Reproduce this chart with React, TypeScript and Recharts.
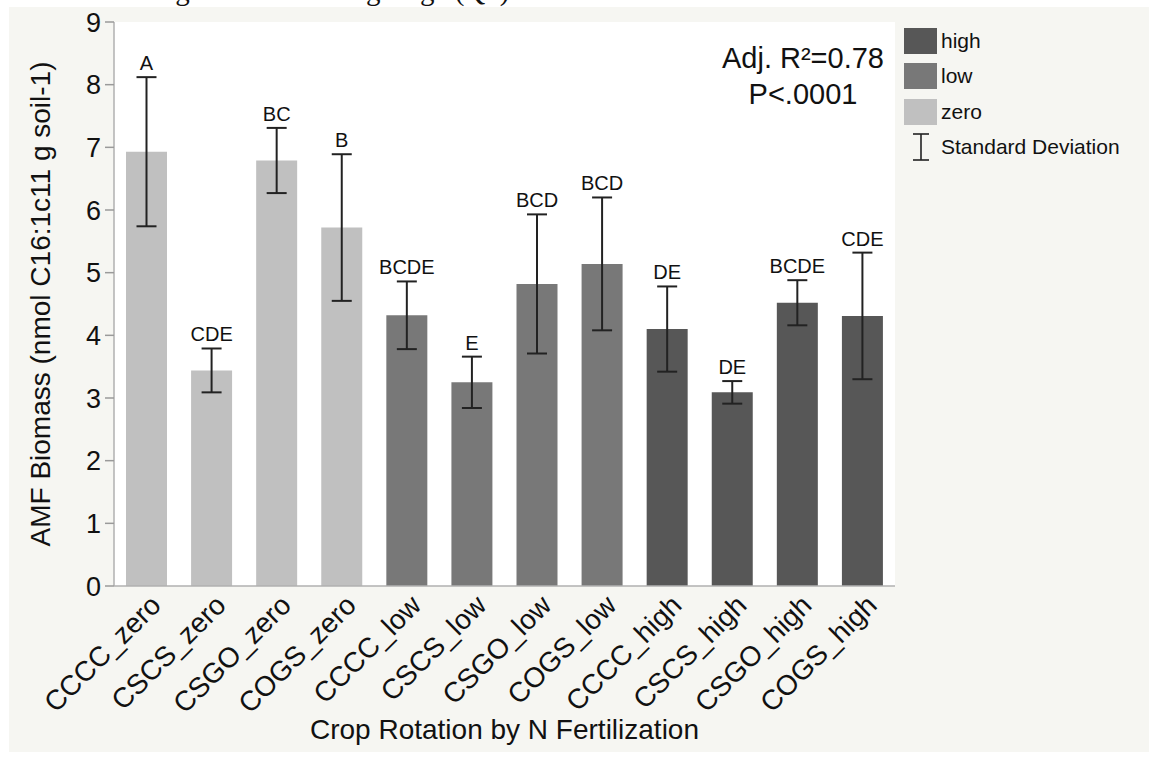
import React from 'react';
import {
  ComposedChart,
  Bar,
  Line,
  XAxis,
  YAxis,
  CartesianGrid,
  ErrorBar,
  LabelList,
  Cell,
  Legend,
} from 'recharts';

// Treatment combinations (crop rotation × N fertilization level)
const treatments = [
  'CCCC_zero', 'CSCS_zero', 'CSGO_zero', 'COGS_zero',
  'CCCC_low', 'CSCS_low', 'CSGO_low', 'COGS_low',
  'CCCC_high', 'CSCS_high', 'CSGO_high', 'COGS_high',
];
const nLevels = [
  'zero', 'zero', 'zero', 'zero',
  'low', 'low', 'low', 'low',
  'high', 'high', 'high', 'high',
];
// Mean AMF biomass (nmol C16:1c11 g soil-1)
const meanBiomass = [6.93, 3.44, 6.79, 5.72, 4.32, 3.25, 4.82, 5.14, 4.1, 3.09, 4.52, 4.31];
// Standard deviation of each mean
const stdDev = [1.19, 0.35, 0.52, 1.17, 0.54, 0.41, 1.11, 1.06, 0.68, 0.18, 0.36, 1.01];
// Tukey grouping letters
const groupLetters = ['A', 'CDE', 'BC', 'B', 'BCDE', 'E', 'BCD', 'BCD', 'DE', 'DE', 'BCDE', 'CDE'];
const yTicks = [0, 1, 2, 3, 4, 5, 6, 7, 8, 9];
const legendLevels = ['high', 'low', 'zero'];
const levelColors: Record<string, string> = {
  high: '#575757',
  low: '#787878',
  zero: '#c0c0c0',
};

const data = treatments.map((name, i) => ({
  name,
  level: nLevels[i],
  mean: meanBiomass[i],
  sd: stdDev[i],
  upper: meanBiomass[i] + stdDev[i],
  letters: groupLetters[i],
}));

const FONT = '"Liberation Sans", Arial, Helvetica, sans-serif';
const INK = '#111';
const FRAME = '#b0b0b0';

const XTick = (props: any) => {
  const { x, y, payload } = props;
  const ax = x + 16;
  const ay = y + 21;
  return (
    <text
      x={ax}
      y={ay}
      transform={`rotate(-45 ${ax} ${ay})`}
      textAnchor="end"
      fontSize={28}
      fontFamily={FONT}
      fill={INK}
    >
      {payload.value}
    </text>
  );
};

const LegendContent = () => (
  <div style={{ fontFamily: FONT, color: INK }}>
    {legendLevels.map((lv) => (
      <div key={lv} style={{ display: 'flex', alignItems: 'center', height: 35.5 }}>
        <span
          style={{
            display: 'inline-block',
            width: 33,
            height: 26,
            background: levelColors[lv],
          }}
        />
        <span style={{ marginLeft: 4, fontSize: 21 }}>{lv}</span>
      </div>
    ))}
    <div style={{ display: 'flex', alignItems: 'center', height: 35.5 }}>
      <svg width={33} height={28} style={{ display: 'block' }}>
        <line x1={9} y1={1} x2={25} y2={1} stroke="#222" strokeWidth={1.6} />
        <line x1={17} y1={1} x2={17} y2={27} stroke="#222" strokeWidth={1.6} />
        <line x1={9} y1={27} x2={25} y2={27} stroke="#222" strokeWidth={1.6} />
      </svg>
      <span style={{ marginLeft: 4, fontSize: 21 }}>Standard Deviation</span>
    </div>
  </div>
);

export default function App() {
  return (
    <div
      style={{
        position: 'absolute',
        left: 0,
        top: 0,
        width: 1149,
        height: 757,
        background: '#fff',
        overflow: 'hidden',
      }}
    >
      <div
        style={{
          position: 'absolute',
          left: 44,
          top: -24,
          fontFamily: '"Liberation Serif", "Times New Roman", serif',
          fontSize: 29,
          lineHeight: '29px',
          whiteSpace: 'nowrap',
          color: INK,
        }}
      >
        rane seeding at the flowering stage (Q1).
      </div>
      <div
        style={{
          position: 'absolute',
          left: 9,
          top: 7,
          width: 1140,
          height: 745,
          background: '#f6f6f2',
        }}
      />
      <div style={{ position: 'absolute', left: 0, top: 0 }}>
        <ComposedChart
          width={1149}
          height={757}
          data={data}
          margin={{ top: 22, right: 254, bottom: 0, left: 0 }}
          barSize={41}
        >
          <CartesianGrid fill="#ffffff" stroke="none" horizontal={false} vertical={false} />
          <XAxis
            dataKey="name"
            height={171}
            interval={0}
            tickLine={false}
            tickSize={0}
            tickMargin={0}
            axisLine={{ stroke: FRAME, strokeWidth: 1.5 }}
            tick={<XTick />}
            label={{
              content: (p: any) => {
                const vb = p.viewBox;
                return (
                  <text
                    x={vb.x + vb.width / 2}
                    y={vb.y + 153}
                    textAnchor="middle"
                    fontSize={28}
                    fontFamily={FONT}
                    fill={INK}
                  >
                    Crop Rotation by N Fertilization
                  </text>
                );
              },
            }}
          />
          <XAxis
            xAxisId="frameTop"
            dataKey="name"
            orientation="top"
            height={0}
            tick={false}
            tickLine={false}
            axisLine={{ stroke: FRAME, strokeWidth: 1.5 }}
          />
          <YAxis
            domain={[0, 9]}
            ticks={yTicks}
            width={114}
            interval={0}
            tickSize={9}
            tickMargin={4}
            tickLine={{ stroke: '#9a9a9a', strokeWidth: 1.5 }}
            axisLine={{ stroke: FRAME, strokeWidth: 1.5 }}
            tick={{ fontSize: 27, fontFamily: FONT, fill: INK }}
            label={{
              content: (p: any) => {
                const vb = p.viewBox;
                const cx = vb.x + 40;
                const cy = vb.y + vb.height / 2;
                return (
                  <text
                    x={cx}
                    y={cy}
                    transform={`rotate(-90 ${cx} ${cy})`}
                    textAnchor="middle"
                    dominantBaseline="central"
                    fontSize={28}
                    fontFamily={FONT}
                    fill={INK}
                  >
                    AMF Biomass (nmol C16:1c11 g soil-1)
                  </text>
                );
              },
            }}
          />
          <YAxis
            yAxisId="frameRight"
            orientation="right"
            domain={[0, 9]}
            width={0}
            tick={false}
            tickLine={false}
            axisLine={{ stroke: FRAME, strokeWidth: 1.5 }}
          />
          <Bar dataKey="mean" isAnimationActive={false} legendType="none">
            {data.map((d) => (
              <Cell key={d.name} fill={levelColors[d.level]} />
            ))}
            <ErrorBar
              dataKey="sd"
              direction="y"
              width={10}
              stroke="#222"
              strokeWidth={2}
              isAnimationActive={false}
            />
          </Bar>
          <Line
            dataKey="upper"
            stroke="none"
            dot={false}
            activeDot={false}
            legendType="none"
            isAnimationActive={false}
          >
            <LabelList
              dataKey="letters"
              position="top"
              offset={7}
              style={{ fontSize: 20, fontFamily: FONT, fill: INK }}
            />
          </Line>
          <Legend
            layout="horizontal"
            align="center"
            verticalAlign="middle"
            content={<LegendContent />}
            wrapperStyle={{ left: 904, top: 23, width: 240, height: 150 }}
          />
        </ComposedChart>
      </div>
      <div
        style={{
          position: 'absolute',
          left: 703,
          top: 40,
          width: 200,
          textAlign: 'center',
          fontFamily: FONT,
          fontSize: 29,
          lineHeight: '36px',
          color: INK,
        }}
      >
        <div>Adj. R²=0.78</div>
        <div>P&lt;.0001</div>
      </div>
    </div>
  );
}
